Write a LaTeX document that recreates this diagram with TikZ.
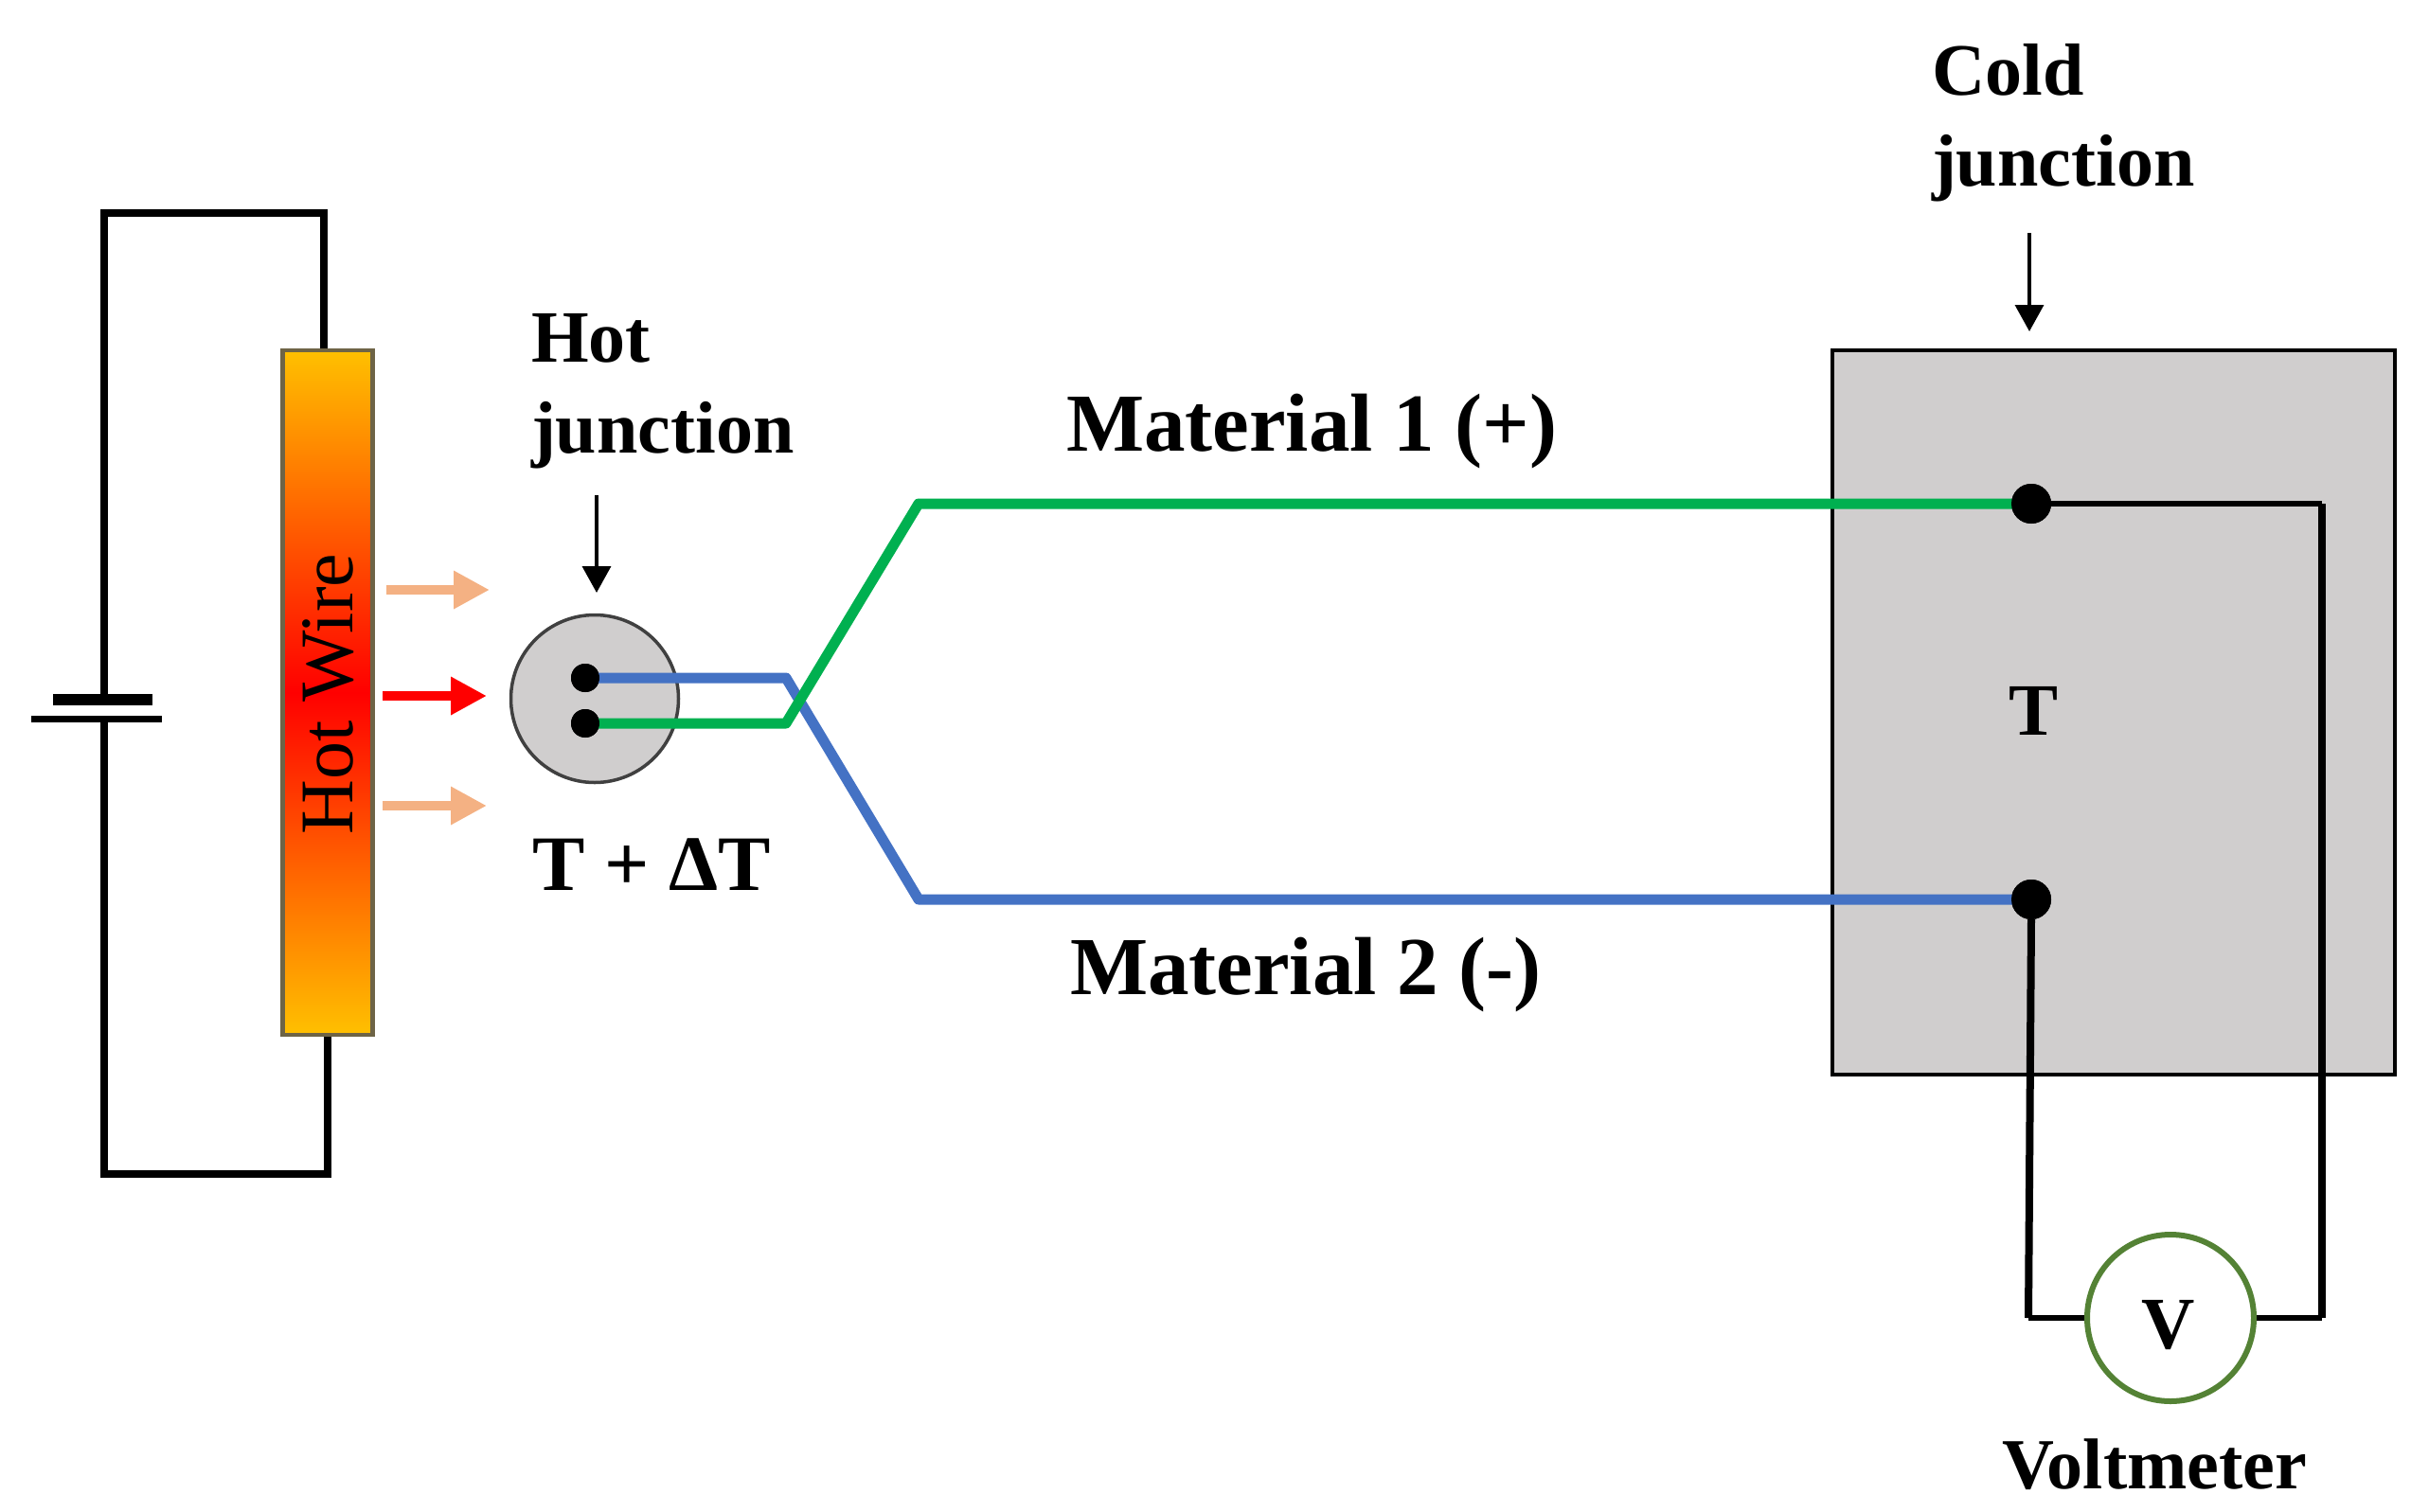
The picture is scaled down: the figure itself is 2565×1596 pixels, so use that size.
\documentclass[tikz,border=0pt]{standalone}
\usepackage{fontspec}
\setmainfont{Liberation Serif}
\usetikzlibrary{arrows.meta,calc}
\definecolor{boxgray}{HTML}{D0CECE}
\definecolor{mblue}{HTML}{4472C4}
\definecolor{mgreen}{HTML}{00B050}
\definecolor{peach}{HTML}{F4B183}
\definecolor{vgreen}{HTML}{548235}
\definecolor{hotyellow}{HTML}{FFC000}
\tikzset{
  x=1pt,y=-1pt,
  wire/.style={line width=8.5pt,black,line join=miter},
  thinwire/.style={line width=6pt,black},
  mat/.style={line width=11pt,line join=round},
  lab/.style={inner sep=0pt,outer sep=0pt,anchor=base west,font=\fontsize{78}{96}\selectfont\bfseries,align=left},
  matlab/.style={lab,font=\fontsize{87}{96}\selectfont\bfseries},
  heat/.style={line width=10pt,-{Triangle[length=38pt,width=38pt]}},
  pointer/.style={line width=3.5pt,black,-{Triangle[length=28pt,width=30pt]}},
  dot/.style={circle,fill=black,draw=none,inner sep=0pt},
}
\begin{document}
\begin{tikzpicture}
\useasboundingbox (0,0) rectangle (2565,1596);
% cold junction block
\node[draw=black,line width=3.5pt,fill=boxgray,minimum width=594pt,minimum height=765pt,inner sep=0pt] (block) at (2232,752.5) {};
% hot wire
\node[draw={rgb,255:red,110;green,100;blue,70},line width=4.5pt,top color=hotyellow,bottom color=hotyellow,middle color=red,minimum width=95pt,minimum height=723pt,inner sep=0pt] (bar) at (346,731.5) {};
\node[inner sep=0pt,anchor=base,rotate=90,font=\fontsize{80}{80}\selectfont] (hw) at (372,733) {Hot Wire};
% battery
\node[fill=black,minimum width=105pt,minimum height=12pt,inner sep=0pt] (batS) at (108.5,739) {};
\node[fill=black,minimum width=138pt,minimum height=7pt,inner sep=0pt] (batL) at (102,759) {};
\coordinate (tl) at (110,225);
\coordinate (tr) at (342,225);
\coordinate (bl) at (110,1240);
\coordinate (br) at (346,1240);
\draw[wire] (tl |- batS.north) -- (tl) -- (tr) -- (tr |- bar.north);
\draw[wire] (bl |- batL.south) -- (bl) -- (br) -- (br |- bar.south);
% heat arrows
\coordinate (h1a) at (408,623); \coordinate (h1b) at (517,623);
\coordinate (h2a) at (404,735); \coordinate (h2b) at (514,735);
\coordinate (h3a) at (404,851); \coordinate (h3b) at (514,851);
\draw[heat,peach] (h1a) -- (h1b);
\draw[heat,red] (h2a) -- (h2b);
\draw[heat,peach] (h3a) -- (h3b);
% hot junction
\node[circle,draw={rgb,255:red,64;green,64;blue,64},line width=3.5pt,fill=boxgray,minimum size=177pt,inner sep=0pt] (hj) at (628,738) {};
\node[dot,minimum size=30pt] (hA) at (618,716) {};
\node[dot,minimum size=30pt] (hB) at (618,764) {};
\node[dot,minimum size=42pt] (cA) at (2145,532) {};
\node[dot,minimum size=42pt] (cB) at (2145,950) {};
% material wires
\coordinate (b1) at (830,716);
\coordinate (b2) at (970,950);
\coordinate (g1) at (830,764);
\coordinate (g2) at (970,532);
\draw[mat,mblue] (hA.center) -- (b1) -- (b2) -- (cB.center);
\draw[mat,mgreen] (hB.center) -- (g1) -- (g2) -- (cA.center);
\node[dot,minimum size=30pt] at (hA) {};
\node[dot,minimum size=30pt] at (hB) {};
\node[dot,minimum size=42pt] at (cA) {};
\node[dot,minimum size=42pt] at (cB) {};
% voltmeter
\node[circle,draw=vgreen,line width=6pt,fill=white,minimum size=176pt,inner sep=0pt] (vm) at (2292,1392) {};
\coordinate (vl) at (2142,1392);
\coordinate (vr) at (2452,1392);
\coordinate (cr) at (2452,532);
\draw[line width=8pt] (cB.south) -- (vl);
\draw[thinwire] (vl) -- (vm.west);
\draw[thinwire] (vm.east) -- (vr);
\draw[line width=8.5pt] (vr) -- (cr);
\draw[thinwire] (cA.east) -- (cr);
% pointers
\coordinate (p1) at (630,523); \coordinate (p2) at (630,626);
\coordinate (p3) at (2143,246); \coordinate (p4) at (2143,350);
\draw[pointer] (p1) -- (p2);
\draw[pointer] (p3) -- (p4);
% labels
\node[lab] (l1) at (561,478) {Hot\\junction};
\node[lab] (l2) at (2040,196) {Cold\\junction};
\node[lab,font=\fontsize{83}{96}\selectfont\bfseries] (l3) at (562,940) {T + ΔT};
\node[matlab] (l4) at (1126,476) {Material 1 (+)};
\node[matlab] (l5) at (1130,1050) {Material 2 (-)};
\node[lab,anchor=base] (l6) at (2147,776) {T};
\node[lab,anchor=base] (l7) at (2290,1424) {V};
\node[lab,font=\fontsize{76}{96}\selectfont\bfseries] (l8) at (2114,1572) {Voltmeter};
\end{tikzpicture}
\end{document}
